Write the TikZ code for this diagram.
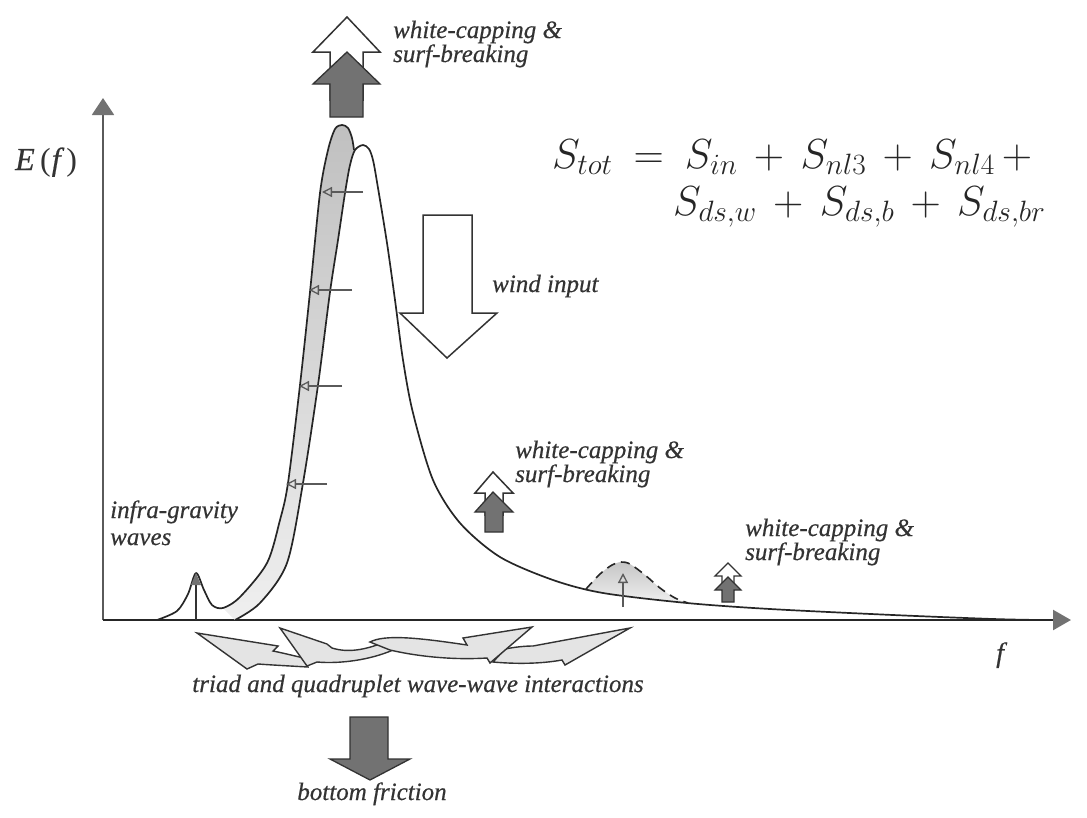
\RequirePackage{fix-cm}
\documentclass[tikz,border=0pt]{standalone}
\usepackage{fontspec}
\setmainfont{Liberation Serif}[ItalicFeatures={FakeBold=0.5}]
\usetikzlibrary{arrows.meta}
\definecolor{dg}{HTML}{333333}
\definecolor{ag}{HTML}{727272}
\definecolor{axg}{HTML}{5A5A5A}
\definecolor{band}{HTML}{C0C0C0}
\definecolor{triad}{HTML}{E4E4E4}
\begin{document}
\begin{tikzpicture}[x=1pt,y=-1pt,
  lbl/.style={font=\fontsize{25}{28}\selectfont\itshape, text=dg, inner sep=0pt, anchor=base west},
  curve/.style={line width=1.7pt, draw=black!85, line join=round},
  blockw/.style={draw=dg, line width=1.5pt, fill=white, line join=miter},
  blockg/.style={draw=dg, line width=1.3pt, fill=ag, line join=miter},
  smallarr/.style={draw=axg, line width=1.3pt, -{Triangle[open,length=10pt,width=10pt]}},
  triadst/.style={draw=dg, line width=1.4pt, fill=triad, line join=miter},
  eqn/.style={anchor=base west, inner sep=0pt, text=black!85, font=\fontsize{42}{46}\selectfont}
]
\useasboundingbox (0,0) rectangle (1087,817);

% axes
\coordinate (O) at (103,620);
\coordinate (Ytop) at (103,98);
\coordinate (Xend) at (1071,620);
\draw[axg, line width=2pt, -{Triangle[length=17pt,width=22pt,color=ag]}] (O) -- (Ytop);
\draw[black!85, line width=2.4pt, -{Triangle[length=18pt,width=20pt,color=ag]}] (O) -- (Xend);

% shaded band
\path[top color=band, bottom color=band!25] plot[smooth] coordinates {(223,608) (240,597) (267,563) (280,520) (288,483) (300,385) (310,292) (320,193) (328,150) (335,129) (342,125) (348,128) (352,138) (354,150)}
  -- plot[smooth] coordinates {(354,150) (350,165) (345,193) (338,240) (330,292) (318,385) (303,483) (287,563) (260,603) (235,620)} -- cycle;

% dashed bump fill
\path[top color=gray!45, bottom color=gray!12] plot[smooth] coordinates {(586,589) (600,574) (612,565) (621,562) (630,564) (645,575) (660,588) (675,598) (688,603)}
  -- plot[smooth] coordinates {(688,603) (650,598) (620,595) (603,593) (586,590)} -- cycle;

% left curve (band edge with infra-gravity bump)
\draw[curve] plot[smooth] coordinates {(157,620) (177,611) (188,594) (196,573) (204,590) (212,605) (223,608) (240,597) (267,563) (280,520) (288,483) (300,385) (310,292) (320,193) (328,150) (335,129) (342,125) (348,128) (352,138) (354,150)};

% main spectrum
\draw[curve] plot[smooth] coordinates {(235,620) (260,603) (287,563) (303,483) (318,385) (330,292) (338,240) (345,193) (350,165) (355,150) (363,145) (369,149) (373,160) (377,182) (387,243) (395,300) (403,360) (413,413) (433,480) (460,523) (500,557) (553,580) (603,593) (687,603) (770,609) (893,615) (993,619) (1040,620)};

% dashed bump
\draw[black!85, line width=1.6pt, dash pattern=on 9pt off 6pt] plot[smooth] coordinates {(586,589) (600,574) (612,565) (621,562) (630,564) (645,575) (660,588) (675,598) (688,603)};

% infra-gravity marker
\coordinate (igb) at (196,620);
\coordinate (igt) at (196,575);
\draw[dg, line width=1.4pt] (igb) -- (igt);
\fill[ag] (196,573) -- (201,585) -- (191,585) -- cycle;

% bump arrow
\coordinate (bab) at (623,607);
\coordinate (bat) at (623,573);
\draw[smallarr] (bab) -- (bat);

% small left arrows in band
\coordinate (s1a) at (363,192); \coordinate (s1b) at (322,192);
\coordinate (s2a) at (352,290); \coordinate (s2b) at (309,290);
\coordinate (s3a) at (342,386); \coordinate (s3b) at (299,386);
\coordinate (s4a) at (327,484); \coordinate (s4b) at (286,484);
\draw[smallarr] (s1a) -- (s1b);
\draw[smallarr] (s2a) -- (s2b);
\draw[smallarr] (s3a) -- (s3b);
\draw[smallarr] (s4a) -- (s4b);

% top block arrows
\draw[blockw] (347,17) -- (380,52) -- (363,52) -- (363,100) -- (330,100) -- (330,52) -- (313,52) -- cycle;
\draw[blockg] (347,52) -- (380,84) -- (363,84) -- (363,117) -- (330,117) -- (330,84) -- (313,84) -- cycle;

% middle block arrows
\draw[blockw] (493,472) -- (513,493) -- (503,493) -- (503,515) -- (485,515) -- (485,493) -- (475,493) -- cycle;
\draw[blockg] (493,492) -- (513,512) -- (503,512) -- (503,532) -- (485,532) -- (485,512) -- (475,512) -- cycle;

% small block arrows right
\draw[blockw, line width=1.3pt] (728,563) -- (741,576) -- (734,576) -- (734,590) -- (722,590) -- (722,576) -- (715,576) -- cycle;
\draw[blockg, line width=1.1pt] (728,577) -- (741,590) -- (734,590) -- (734,602) -- (722,602) -- (722,590) -- (715,590) -- cycle;

% wind input arrow
\draw[blockw] (423,215) -- (472,215) -- (472,313) -- (497,313) -- (447,358) -- (400,313) -- (423,313) -- cycle;

% bottom friction arrow
\draw[blockg] (350,717) -- (388,717) -- (388,759) -- (410,759) -- (370,780) -- (330,759) -- (350,759) -- cycle;

% triad / quadruplet arrows
\draw[triadst] (197,633) -- (278,646) -- (273,651) .. controls (288,654) and (298,657) .. (305,658) -- (308,667) .. controls (290,666) and (272,665) .. (258,664) -- (247,669) -- cycle;
\draw[triadst] (280,628) -- (327,644) -- (332,648) .. controls (348,653) and (365,650) .. (385,642) -- (393,650) .. controls (370,660) and (340,664) .. (317,662) -- (307,666) -- cycle;
\draw[triadst] (630,628) -- (565,665) -- (562,660) .. controls (540,664) and (515,664) .. (493,662) -- (505,649) .. controls (515,647) and (525,646) .. (533,646) -- cycle;
\draw[triadst] (532,627) -- (490,663) -- (487,658) .. controls (455,660) and (420,657) .. (390,650) -- (370,642) .. controls (385,634) and (420,638) .. (467,645) -- (463,638) -- cycle;

% labels
\node[lbl, font=\fontsize{32}{34}\selectfont] (Ef) at (15,170) {\textit{E}\,(\kern1pt\textit{f}\kern2pt)};
\node[lbl, font=\fontsize{28}{30}\selectfont\itshape] (flab) at (996,662) {f};
\node[lbl] (wc1a) at (393,38) {white-capping \&};
\node[lbl] (wc1b) at (393,62) {surf-breaking};
\node[lbl] (wc2a) at (515,458) {white-capping \&};
\node[lbl] (wc2b) at (515,482) {surf-breaking};
\node[lbl] (wc3a) at (745,536) {white-capping \&};
\node[lbl] (wc3b) at (745,560) {surf-breaking};
\node[lbl] (wind) at (492,292) {wind input};
\node[lbl] (ig1) at (110,518) {infra-gravity};
\node[lbl] (ig2) at (110,545) {waves};
\node[lbl, anchor=base] (triadl) at (418,692) {triad and quadruplet wave-wave interactions};
\node[lbl, anchor=base] (bfl) at (372,800) {bottom friction};

% equation
\node[eqn] (eq1) at (552,168) {$S_{tot} \mathrel{\:=\:} S_{in} \mathbin{\,+\,} S_{nl3} \mathbin{\,+\,} S_{nl4} \mathbin{\,+}$};
\node[eqn] (eq2) at (673,215) {$S_{ds,w} \mathbin{\,+\,} S_{ds,b} \mathbin{\,+\,} S_{ds,br}$};
\end{tikzpicture}
\end{document}
